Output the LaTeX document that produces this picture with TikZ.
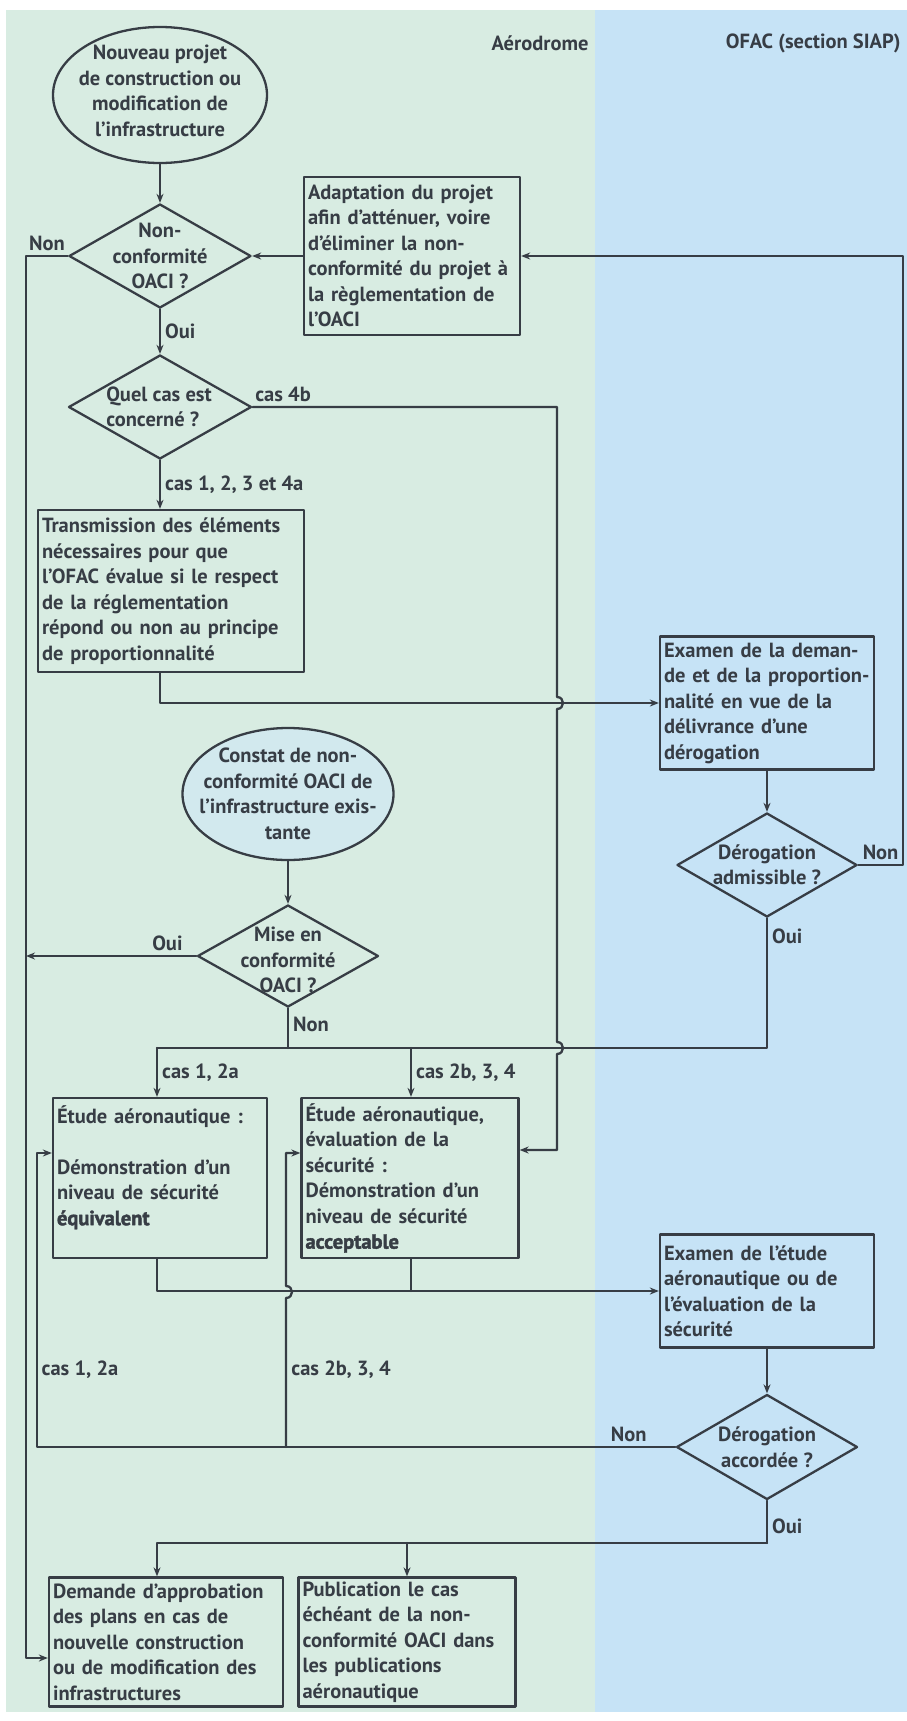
\documentclass[tikz,border=0pt]{standalone}
\usepackage{fontspec}
\setmainfont{PT Sans}
\newfontfamily\medfont{PT Sans Bold}
\newfontfamily\heavyfont{PT Sans Bold}[FakeBold=2]
\usetikzlibrary{shapes.geometric,arrows.meta}
\definecolor{lc}{RGB}{55,61,69}
\definecolor{aero}{RGB}{216,236,226}
\definecolor{ofac}{RGB}{198,227,246}
\definecolor{cons}{RGB}{210,233,238}
\begin{document}
\begin{tikzpicture}[x=1pt,y=-1pt,color=lc,font=\medfont\fontsize{20.5}{25.5}\selectfont,
	line join=round, line cap=round, >={Stealth[length=9pt,width=7pt]},
	ln/.style={line width=2.3pt},
	box/.style={draw, line width=2.3pt, align=left, inner xsep=4pt, inner ysep=2pt},
	dia/.style={draw, diamond, line width=2.3pt, inner sep=0pt},
	ell/.style={draw, ellipse, line width=2.3pt, inner sep=0pt},
	txt/.style={align=center, inner sep=0pt},
	lab/.style={inner sep=4pt}]
	\useasboundingbox (0,0) rectangle (907,1721);
	\fill[aero] (6,10) rectangle (595,1712);
	\fill[ofac] (595,10) rectangle (907,1712);
	\node[anchor=east] (hAero) at (592,43) {Aérodrome};
	\node[anchor=east] (hOfac) at (904,43) {OFAC (section SIAP)};
	% formes
	\node[ell, minimum width=214pt, minimum height=136pt,
		label={[txt,yshift=4pt]center:{Nouveau projet\\de construction ou\\modification de\\l’infrastructure}}] (start) at (160,95) {};
	\node[dia, minimum width=182pt, minimum height=104pt,
		label={[txt]center:{Non-\\conformité\\OACI ?}}] (q1) at (160,256) {};
	\node[box, text width=208pt, minimum height=158pt] (adapt) at (412,256)
		{Adaptation du projet\\afin d’atténuer, voire\\d’éliminer la non-\\conformité du projet à\\la règlementation de\\l’OACI};
	\node[dia, minimum width=183pt, minimum height=104pt,
		label={[txt,align=left,xshift=-1pt]center:{Quel cas est\\concerné ?}}] (q2) at (160,407) {};
	\node[box, text width=258pt, minimum height=162pt] (trans) at (171,591)
		{Transmission des éléments\\nécessaires pour que\\l’OFAC évalue si le respect\\de la réglementation\\répond ou non au principe\\de proportionnalité};
	\node[box, text width=206pt, minimum height=133pt] (exam1) at (767,703)
		{Examen de la deman-\\de et de la proportion-\\nalité en vue de la\\délivrance d’une\\dérogation};
	\node[dia, minimum width=180pt, minimum height=104pt,
		label={[txt]center:{Dérogation\\admissible ?}}] (q3) at (767,865) {};
	\node[ell, fill=cons, minimum width=211pt, minimum height=132pt,
		label={[txt]center:{Constat de non-\\conformité OACI de\\l’infrastructure exis-\\tante}}] (constat) at (288,794) {};
	\node[dia, minimum width=181pt, minimum height=102pt,
		label={[txt,yshift=-4pt]center:{Mise en\\conformité\\OACI ?}}] (q4) at (288,956) {};
	\node[box, text width=206pt, minimum height=160pt] (etude1) at (160,1178)
		{Étude aéronautique :\\[25.5pt]Démonstration d’un\\niveau de sécurité\\{\heavyfont équivalent}\\\mbox{}};
	\node[box, text width=209pt, minimum height=160pt] (etude2) at (410,1178)
		{Étude aéronautique,\\évaluation de la\\sécurité :\\Démonstration d’un\\niveau de sécurité\\{\heavyfont acceptable}};
	\node[box, text width=206pt, minimum height=113pt] (exam2) at (767,1291)
		{Examen de l’étude\\aéronautique ou de\\l’évaluation de la\\sécurité};
	\node[dia, minimum width=181pt, minimum height=105pt,
		label={[txt]center:{Dérogation\\accordée ?}}] (q5) at (767,1447) {};
	\node[box, text width=226pt, minimum height=129pt] (demande) at (166,1642)
		{Demande d’approbation\\des plans en cas de\\nouvelle construction\\ou de modification des\\infrastructures};
	\node[box, text width=209pt, minimum height=129pt] (publi) at (407,1642)
		{Publication le cas\\échéant de la non-\\conformité OACI dans\\les publications\\aéronautique};
	\node[lab] (l1) at (80,1370) {cas 1, 2a};
	\node[lab] (l2) at (341,1370) {cas 2b, 3, 4};
	% points de passage
	\coordinate (lx) at (26,0);
	\coordinate (lx2) at (37,0);
	\coordinate (rx) at (903,256);
	\coordinate (vx) at (557,0);
	\coordinate (hy) at (767,1048);
	\coordinate (c1) at (157,1048);
	\coordinate (c2) at (411,1048);
	\coordinate (bx) at (286,1447);
	\coordinate (oy) at (767,1543);
	% liaisons
	\draw[ln,->] (start) -- (q1);
	\draw[ln,->] (q1.west) -- node[lab,above]{Non} (q1.west -| lx) |- ([yshift=-16pt]demande.west);
	\draw[ln,->] (adapt) -- (q1);
	\draw[ln,->] (q3.east) -- node[lab,above]{Non} (q3.east -| rx) -- (rx) -- (adapt.east);
	\draw[ln,->] (q1) -- node[lab,right]{Oui} (q2);
	\draw[ln,->] (q2.east) -- node[lab,above,pos=0.1]{cas 4b} (q2.east -| vx) -- (557,697)
		.. controls (565,697) and (565,709) .. (557,709) -- (557,1042)
		.. controls (565,1042) and (565,1054) .. (557,1054) |- ([yshift=28pt]etude2.east);
	\draw[ln,->] (q2) -- node[lab,right]{cas 1, 2, 3 et 4a} (q2 |- trans.north);
	\draw[ln,->] (trans.south -| q2) |- (exam1.west);
	\draw[ln,->] (exam1) -- (q3);
	\draw[ln,->] (constat) -- (q4);
	\draw[ln,->] (q4.west) -- node[lab,above,pos=0.17]{Oui} (q4.west -| lx);
	\draw[ln] (q4.south) -- node[lab,right,pos=0.4]{Non} (q4.south |- hy);
	\draw[ln] (q3.south) -- node[lab,right,pos=0.14]{Oui} (hy) -- (c1);
	\draw[ln,->] (c1) -- node[lab,right]{cas 1, 2a} (c1 |- etude1.north);
	\draw[ln,->] (c2) -- node[lab,right]{cas 2b, 3, 4} (c2 |- etude2.north);
	\draw[ln,->] (c1 |- etude1.south) |- (exam2.west);
	\draw[ln] (c2 |- etude2.south) -- (c2 |- exam2.west);
	\draw[ln,->] (exam2) -- (q5);
	\draw[ln,->] (q5.west) -- node[lab,above,pos=0.073]{Non} (q5.west -| lx2) |- ([yshift=25pt]etude1.west);
	\draw[ln,->] (bx) -- (286,1298) .. controls (294,1298) and (294,1286) .. (286,1286) |- ([yshift=25pt]etude2.west);
	\draw[ln] (q5) -- node[lab,right,pos=0.6]{Oui} (oy);
	\draw[ln,->] (oy) -| (demande.north -| c1);
	\draw[ln,->] (oy -| publi.north) -- (publi.north);
\end{tikzpicture}
\end{document}
